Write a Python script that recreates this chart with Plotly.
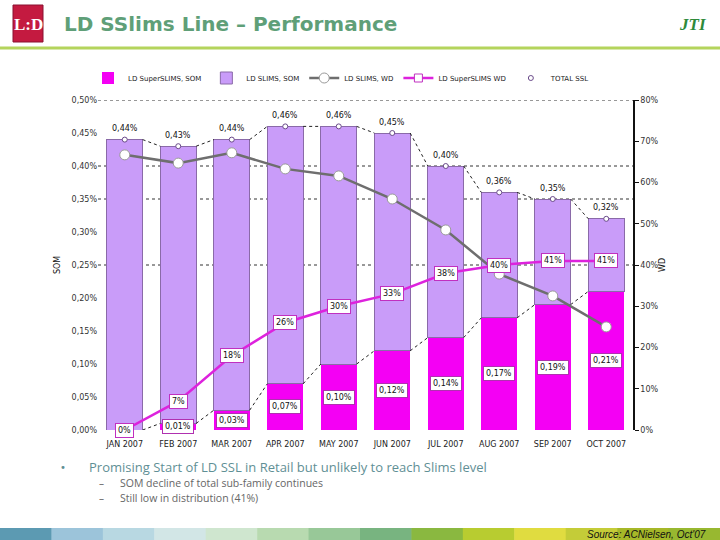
import plotly.graph_objects as go

months = ["JAN 2007", "FEB 2007", "MAR 2007", "APR 2007", "MAY 2007",
          "JUN 2007", "JUL 2007", "AUG 2007", "SEP 2007", "OCT 2007"]
super_som = [0.00, 0.01, 0.03, 0.07, 0.10, 0.12, 0.14, 0.17, 0.19, 0.21]
total_ssl = [0.44, 0.43, 0.44, 0.46, 0.46, 0.45, 0.40, 0.36, 0.35, 0.32]
slims_som = [round(t - s, 2) for t, s in zip(total_ssl, super_som)]
slims_wd = [66.7, 64.7, 67.2, 63.3, 61.6, 56.0, 48.5, 37.8, 32.5, 25.0]
super_wd = [0, 7, 18, 26, 30, 33, 38, 40, 41, 41]
left_ticks = [0.00, 0.05, 0.10, 0.15, 0.20, 0.25, 0.30, 0.35, 0.40, 0.45, 0.50]
right_ticks = [0, 10, 20, 30, 40, 50, 60, 70, 80]
grid_vals = [0.50, 0.40, 0.35, 0.25]

LILAC = "#c99cf9"
MAGENTA = "#f400f4"
FONT = "DejaVu Sans"
BW = 0.67
x = list(range(len(months)))

W, H, L, R, T, B = 720, 540, 98, 87, 100, 110
pw, ph = W - L - R, H - T - B


def px_x(v):
    return (v - L) / pw


def px_y(v):
    return (H - B - v) / ph


def pct(v):
    return f"{v:.2f}%".replace(".", ",")


fig = go.Figure()
fig.add_bar(x=x, y=super_som, name="LD SuperSLIMS, SOM", marker_color=MAGENTA,
            marker_line_width=0, width=BW)
fig.add_bar(x=x, y=slims_som, name="LD SLIMS, SOM", marker_color=LILAC,
            marker_line=dict(color="#8a6aa8", width=1), width=BW)


def series_lines(tops):
    xs, ys = [], []
    for i in range(len(tops) - 1):
        xs += [i + BW / 2, i + 1 - BW / 2, None]
        ys += [tops[i], tops[i + 1], None]
    return xs, ys


sx, sy = series_lines(super_som)
fig.add_scatter(x=sx, y=sy, mode="lines", line=dict(color="#222", width=1, dash="dot"),
                showlegend=False, hoverinfo="skip")
tx, ty = series_lines(total_ssl)
fig.add_scatter(x=tx, y=ty, mode="lines", line=dict(color="#222", width=1, dash="dot"),
                showlegend=False, hoverinfo="skip")

fig.add_scatter(x=x, y=slims_wd, yaxis="y2", name="LD SLIMS, WD", mode="lines+markers",
                line=dict(color="#6e6e6e", width=2.5),
                marker=dict(symbol="circle", size=10, color="white",
                            line=dict(color="#9a9a9a", width=1)))
fig.add_scatter(x=x, y=super_wd, yaxis="y2", name="LD SuperSLIMS WD", mode="lines+markers",
                line=dict(color="#dd22dd", width=2.5),
                marker=dict(symbol="square", size=8, color="white",
                            line=dict(color="#c030c0", width=1)))
fig.add_scatter(x=x, y=total_ssl, name="TOTAL SSL", mode="markers",
                marker=dict(symbol="circle", size=5, color="white",
                            line=dict(color="#6a4a8a", width=1)))

ann = []
for i, v in enumerate(total_ssl):
    ann.append(dict(x=i, y=v, xref="x", yref="y", text=pct(v), showarrow=False,
                    yshift=11, font=dict(family=FONT, size=8, color="#111")))
for i, v in enumerate(super_som):
    if v <= 0:
        continue
    ann.append(dict(x=i, y=v / 2, xref="x", yref="y", text=pct(v), showarrow=False,
                    bgcolor="white", bordercolor="#b030b0", borderwidth=1, borderpad=2,
                    font=dict(family=FONT, size=8, color="#111")))
for i, v in enumerate(super_wd):
    ann.append(dict(x=i, y=v, xref="x", yref="y2", text=f"{v}%", showarrow=False,
                    bgcolor="white", bordercolor="#c030c0", borderwidth=1, borderpad=2,
                    font=dict(family=FONT, size=8, color="#111")))


def page_text(px, py, text, size, color, family=FONT, xanchor="left", angle=0):
    return dict(x=px_x(px), y=px_y(py), xref="paper", yref="paper", text=text,
                showarrow=False, xanchor=xanchor, yanchor="middle", textangle=angle,
                font=dict(family=family, size=size, color=color))


ann += [
    page_text(62, 24, "<b>LD SSlims Line – Performance</b>", 20, "#5f9f78"),
    page_text(28, 24, "<b>L:D</b>", 17, "white", "Liberation Serif", "center"),
    page_text(693, 24, "<b><i>JTI</i></b>", 17, "#2e8a3a", "Liberation Serif", "center"),
    page_text(57, 265, "SOM", 8, "#111", xanchor="center", angle=-90),
    page_text(662, 265, "WD", 8, "#111", xanchor="center", angle=-90),
    page_text(63, 467, "•", 10, "#5f8f95", xanchor="center"),
    page_text(87, 467, "Promising Start of LD SSL in Retail but unlikely to reach Slims level",
              13, "#5f8f95", "Open Sans"),
    page_text(101, 483, "–", 10, "#666", "Open Sans", "center"),
    page_text(118, 483, "SOM decline of total sub-family continues", 10.5, "#666", "Open Sans"),
    page_text(101, 498, "–", 10, "#666", "Open Sans", "center"),
    page_text(118, 498, "Still low in distribution (41%)", 10.5, "#666", "Open Sans"),
    page_text(708, 534, "<i>Source: ACNielsen, Oct'07</i>", 10, "#111",
              "Liberation Sans", "right"),
]

shapes = []
for g in grid_vals:
    shapes.append(dict(type="line", xref="paper", yref="y", x0=0, x1=1, y0=g, y1=g,
                       line=dict(color="#333", width=1, dash="dot"), layer="below"))
shapes.append(dict(type="rect", xref="paper", yref="paper",
                   x0=px_x(13), x1=px_x(43), y0=px_y(42), y1=px_y(5),
                   fillcolor="#c41a40", line=dict(color="#8a1030", width=1)))
shapes.append(dict(type="line", xref="paper", yref="paper",
                   x0=px_x(0), x1=px_x(720), y0=px_y(48), y1=px_y(48),
                   line=dict(color="#b4d45c", width=3)))
strip = ["#5c9ab2", "#9cc4da", "#b8d8e2", "#d2e6e6", "#cfe6cf", "#b8dab0", "#98c898",
         "#78b480", "#8ab840", "#b8cc30", "#e0dc40", "#c4cc38", "#a6b828", "#98b830"]
sw = 720 / len(strip)
for k, c in enumerate(strip):
    shapes.append(dict(type="rect", xref="paper", yref="paper",
                       x0=px_x(k * sw), x1=px_x((k + 1) * sw + 0.5),
                       y0=px_y(540), y1=px_y(528),
                       fillcolor=c, line=dict(width=0), layer="below"))

fig.update_layout(
    width=W, height=H, margin=dict(l=L, r=R, t=T, b=B),
    paper_bgcolor="white", plot_bgcolor="white",
    barmode="stack",
    font=dict(family=FONT, size=8, color="#333"),
    showlegend=True,
    legend=dict(orientation="h", x=px_x(88), y=px_y(78), xanchor="left", yanchor="middle",
                font=dict(family=FONT, size=7, color="#222"), traceorder="normal",
                itemwidth=30, tracegroupgap=0, bgcolor="rgba(0,0,0,0)"),
    xaxis=dict(tickmode="array", tickvals=x, ticktext=months, range=[-0.5, 9.5],
               showgrid=False, zeroline=False, showline=False, ticks="",
               ticklabelstandoff=8,
               tickfont=dict(family=FONT, size=8, color="#222")),
    yaxis=dict(range=[0, 0.50], tickmode="array", tickvals=left_ticks,
               ticktext=[pct(v) for v in left_ticks], showgrid=False, zeroline=False,
               showline=False, ticks="", tickfont=dict(family=FONT, size=8, color="#333")),
    yaxis2=dict(range=[0, 80], overlaying="y", side="right", tickmode="array",
                tickvals=right_ticks, ticktext=[f"{v}%" for v in right_ticks],
                showgrid=False, zeroline=False, showline=True, linecolor="#111", linewidth=1.5,
                ticks="outside", ticklen=4, tickcolor="#111",
                tickfont=dict(family=FONT, size=8, color="#333")),
    annotations=ann, shapes=shapes,
)
fig.write_html("out.html", config={"displayModeBar": False},
               post_script="document.body.style.margin='0';document.body.style.overflow='hidden';")
